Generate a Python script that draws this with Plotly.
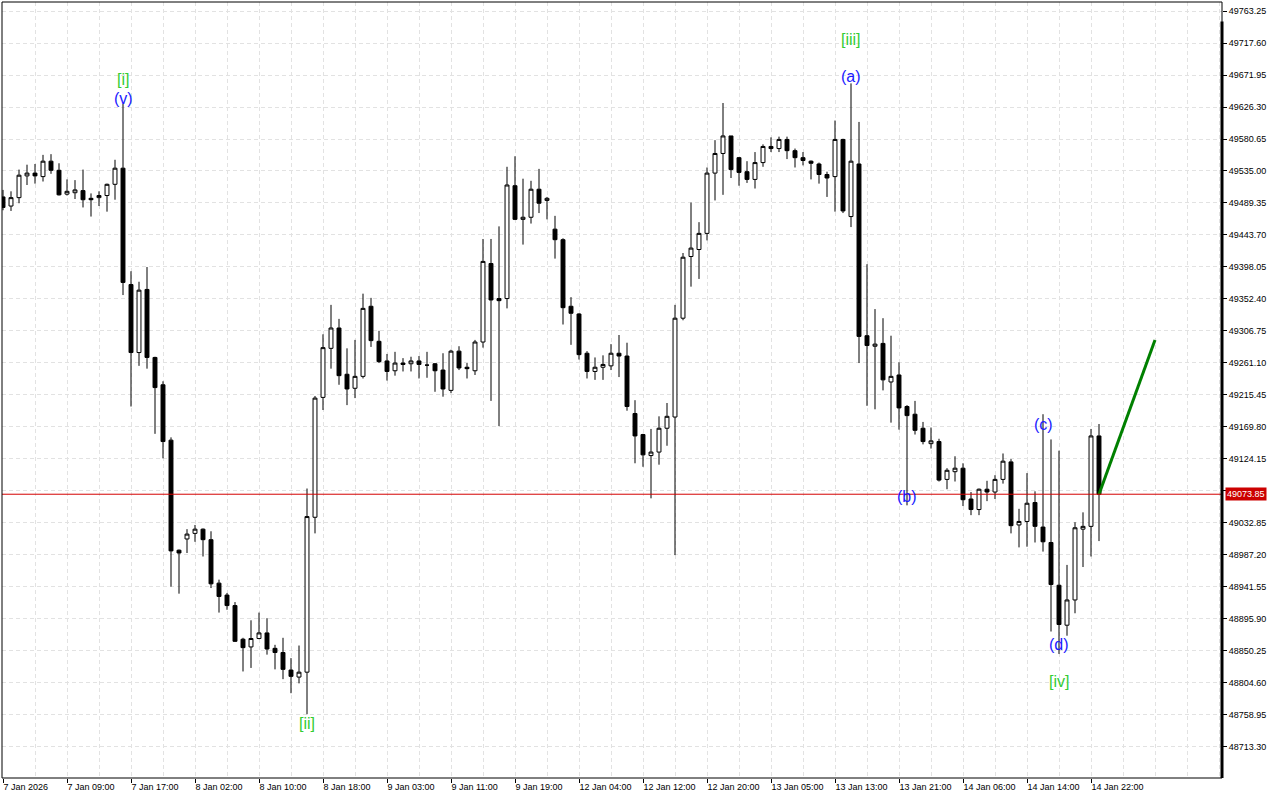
import plotly.graph_objects as go

# ---- data (hourly candles) ----
open_ = [49498, 49485, 49497, 49528, 49532, 49527, 49549, 49536, 49502, 49504,
         49507, 49496, 49497, 49500, 49516, 49539, 49373, 49276, 49366, 49269,
         49230, 49151, 48994, 49010, 49018, 49024, 49009, 48947, 48930, 48915,
         48867, 48856, 48868, 48876, 48854, 48848, 48823, 48813, 48820, 49041,
         49212, 49282, 49311, 49245, 49225, 49242, 49342, 49292, 49264, 49250,
         49261, 49260, 49264, 49258, 49260, 49251, 49222, 49278, 49255, 49250,
         49291, 49403, 49353, 49353, 49514, 49466, 49469, 49509, 49493, 49452,
         49437, 49342, 49331, 49275, 49249, 49255, 49257, 49275, 49271, 49189,
         49159, 49129, 49134, 49168, 49184, 49325, 49413, 49423, 49446, 49532,
         49560, 49585, 49554, 49534, 49523, 49547, 49570, 49567, 49580, 49564,
         49554, 49549, 49545, 49530, 49527, 49580, 49470, 49545, 49300, 49285,
         49289, 49234, 49244, 49199, 49188, 49168, 49146, 49149, 49095, 49106,
         49111, 49067, 49052, 49081, 49077, 49095, 49120, 49030, 49035, 49062,
         49027, 49005, 48944, 48887, 48923, 49024, 49028, 49157]
high = [49508, 49506, 49537, 49544, 49545, 49558, 49559, 49546, 49523, 49522,
        49537, 49503, 49506, 49517, 49551, 49631, 49392, 49377, 49398, 49270,
        49235, 49155, 48995, 49024, 49030, 49025, 49021, 48952, 48933, 48920,
        48869, 48894, 48905, 48897, 48859, 48869, 48840, 48858, 49082, 49214,
        49302, 49344, 49324, 49282, 49294, 49360, 49354, 49307, 49274, 49277,
        49268, 49270, 49271, 49277, 49261, 49275, 49280, 49285, 49261, 49294,
        49438, 49438, 49456, 49541, 49556, 49524, 49521, 49538, 49498, 49471,
        49439, 49355, 49332, 49278, 49269, 49272, 49288, 49301, 49290, 49208,
        49160, 49167, 49185, 49204, 49344, 49418, 49490, 49462, 49540, 49579,
        49632, 49585, 49555, 49549, 49562, 49573, 49583, 49584, 49584, 49567,
        49562, 49550, 49547, 49534, 49607, 49581, 49660, 49605, 49402, 49338,
        49325, 49300, 49262, 49201, 49207, 49177, 49169, 49153, 49111, 49128,
        49118, 49077, 49082, 49093, 49101, 49132, 49124, 49053, 49104, 49078,
        49188, 49152, 49136, 48973, 49034, 49048, 49167, 49174]
low = [49479, 49478, 49489, 49515, 49517, 49520, 49531, 49500, 49500, 49495,
       49483, 49470, 49485, 49477, 49494, 49358, 49199, 49257, 49253, 49160,
       49125, 48942, 48932, 48990, 49006, 48985, 48940, 48905, 48909, 48863,
       48821, 48826, 48867, 48845, 48824, 48810, 48790, 48804, 48760, 49018,
       49194, 49253, 49230, 49201, 49211, 49239, 49284, 49261, 49236, 49243,
       49249, 49249, 49239, 49240, 49220, 49213, 49218, 49251, 49239, 49244,
       49283, 49207, 49171, 49339, 49465, 49430, 49460, 49475, 49466, 49410,
       49316, 49287, 49266, 49239, 49237, 49237, 49251, 49241, 49193, 49118,
       49113, 49068, 49116, 49143, 48987, 49322, 49370, 49381, 49436, 49493,
       49501, 49525, 49514, 49518, 49510, 49541, 49562, 49562, 49552, 49540,
       49543, 49523, 49517, 49498, 49477, 49475, 49455, 49261, 49200, 49195,
       49222, 49176, 49166, 49058, 49159, 49145, 49139, 49092, 49081, 49092,
       49057, 49044, 49044, 49064, 49067, 49089, 49018, 48998, 48999, 49005,
       48992, 48878, 48846, 48872, 48904, 48970, 48985, 49007]
close = [49483, 49497, 49529, 49532, 49528, 49549, 49536, 49501, 49506, 49508,
         49494, 49494, 49500, 49516, 49539, 49376, 49276, 49365, 49269, 49226,
         49149, 48993, 48990, 49017, 49024, 49009, 48946, 48928, 48915, 48864,
         48855, 48868, 48876, 48853, 48848, 48824, 48814, 48820, 49042, 49211,
         49283, 49311, 49243, 49224, 49242, 49339, 49293, 49263, 49249, 49261,
         49259, 49264, 49259, 49258, 49250, 49224, 49278, 49254, 49253, 49291,
         49406, 49351, 49350, 49515, 49466, 49469, 49509, 49489, 49496, 49437,
         49340, 49332, 49273, 49249, 49255, 49259, 49275, 49271, 49199, 49157,
         49130, 49134, 49168, 49185, 49325, 49412, 49425, 49446, 49532, 49560,
         49585, 49537, 49533, 49523, 49547, 49570, 49567, 49580, 49564, 49554,
         49550, 49546, 49530, 49525, 49580, 49478, 49549, 49299, 49286, 49288,
         49237, 49242, 49197, 49186, 49165, 49149, 49150, 49094, 49108, 49111,
         49066, 49052, 49081, 49077, 49095, 49121, 49029, 49035, 49061, 49028,
         49006, 48945, 48888, 48923, 49026, 49028, 49157, 49073.85]
candle_idx = list(range(len(open_)))

time_label_idx = [0, 8, 16, 24, 32, 40, 48, 56, 64, 72, 80, 88, 96, 104, 112, 120, 128, 136]
time_labels = ["7 Jan 2026", "7 Jan 09:00", "7 Jan 17:00", "8 Jan 02:00", "8 Jan 10:00",
               "8 Jan 18:00", "9 Jan 03:00", "9 Jan 11:00", "9 Jan 19:00", "12 Jan 04:00",
               "12 Jan 12:00", "12 Jan 20:00", "13 Jan 05:00", "13 Jan 13:00", "13 Jan 21:00",
               "14 Jan 06:00", "14 Jan 14:00", "14 Jan 22:00"]

price_ticks = [49763.25, 49717.60, 49671.95, 49626.30, 49580.65, 49535.00, 49489.35,
               49443.70, 49398.05, 49352.40, 49306.75, 49261.10, 49215.45, 49169.80,
               49124.15, 49078.50, 49032.85, 48987.20, 48941.55, 48895.90, 48850.25,
               48804.60, 48758.95, 48713.30]
current_price = 49073.85
# the tick label hidden behind the current-price box is left blank
price_tick_text = ["" if abs(v - current_price) < 10 else "%.2f" % v for v in price_ticks]

forecast_x = [137, 144]
forecast_y = [49073.85, 49294]

wave_text = ["[i]", "(v)", "[ii]", "[iii]", "(a)", "(b)", "(c)", "(d)", "[iv]"]
wave_x = [15, 15, 38, 106, 106, 113, 130, 132, 132]
wave_y = [49666, 49639, 48747, 49722, 49670, 49071, 49174, 48859, 48806]
wave_color = ["#33cc33", "#1a1aff", "#33cc33", "#33cc33", "#1a1aff",
              "#1a1aff", "#1a1aff", "#1a1aff", "#33cc33"]

# ---- figure ----
fig = go.Figure()
fig.add_trace(go.Candlestick(
    x=candle_idx, open=open_, high=high, low=low, close=close,
    increasing=dict(line=dict(color="black", width=1), fillcolor="white"),
    decreasing=dict(line=dict(color="black", width=1), fillcolor="black"),
    whiskerwidth=0, hoverinfo="skip", showlegend=False,
))
fig.add_trace(go.Scatter(
    x=forecast_x, y=forecast_y, mode="lines",
    line=dict(color="#008000", width=3), hoverinfo="skip", showlegend=False,
))

grid_col = "#e2e2e2"
tick_font = dict(family="Liberation Sans", size=9, color="black")

fig.update_layout(
    width=1280, height=800,
    margin=dict(l=2, r=58, t=2, b=22),
    paper_bgcolor="white", plot_bgcolor="white",
    showlegend=False,
    xaxis=dict(
        range=[-0.125, 152.375],
        tickmode="array", tickvals=time_label_idx, ticktext=time_labels,
        ticklabelposition="outside right",
        ticks="outside", ticklen=4, tickcolor="black", tickwidth=1,
        tickfont=tick_font,
        showgrid=True, gridcolor=grid_col, griddash="4px,3px", gridwidth=1,
        minor=dict(tickmode="linear", tick0=0, dtick=4, showgrid=True,
                   gridcolor=grid_col, griddash="4px,3px", gridwidth=1),
        zeroline=False, showline=False,
        rangeslider=dict(visible=False),
        fixedrange=True,
    ),
    yaxis=dict(
        side="right",
        range=[48669.0, 49776.1],
        tickmode="array", tickvals=price_ticks, ticktext=price_tick_text,
        ticks="outside", ticklen=4, tickcolor="black", tickwidth=1,
        tickfont=tick_font,
        showgrid=True, gridcolor=grid_col, griddash="4px,3px", gridwidth=1,
        zeroline=False, showline=False,
        fixedrange=True,
    ),
)

# current price line
fig.add_shape(type="line", xref="paper", x0=0, x1=1, yref="y",
              y0=current_price, y1=current_price,
              line=dict(color="#d40000", width=1))
# frame
fig.add_shape(type="rect", xref="paper", yref="paper", x0=0, x1=1, y0=0, y1=1,
              line=dict(color="black", width=1))
fig.add_shape(type="line", xref="paper", yref="paper", x0=1, x1=1, y0=0, y1=0.975,
              line=dict(color="black", width=3))

# price label box
fig.add_annotation(x=1, xref="paper", y=current_price, yref="y",
                   text="%.2f" % current_price, showarrow=False,
                   xanchor="left", yanchor="middle", xshift=3,
                   bgcolor="#cc0000", borderpad=1,
                   font=dict(family="Liberation Sans", size=9, color="white"))

# wave labels
for t, xi, yi, c in zip(wave_text, wave_x, wave_y, wave_color):
    fig.add_annotation(x=xi, y=yi, text=t, showarrow=False,
                       xanchor="center", yanchor="middle",
                       font=dict(family="Liberation Sans", size=16, color=c))

fig.write_html("out.html",
               config={"displayModeBar": False, "staticPlot": True},
               post_script="document.body.style.margin='0';document.body.style.padding='0';")
